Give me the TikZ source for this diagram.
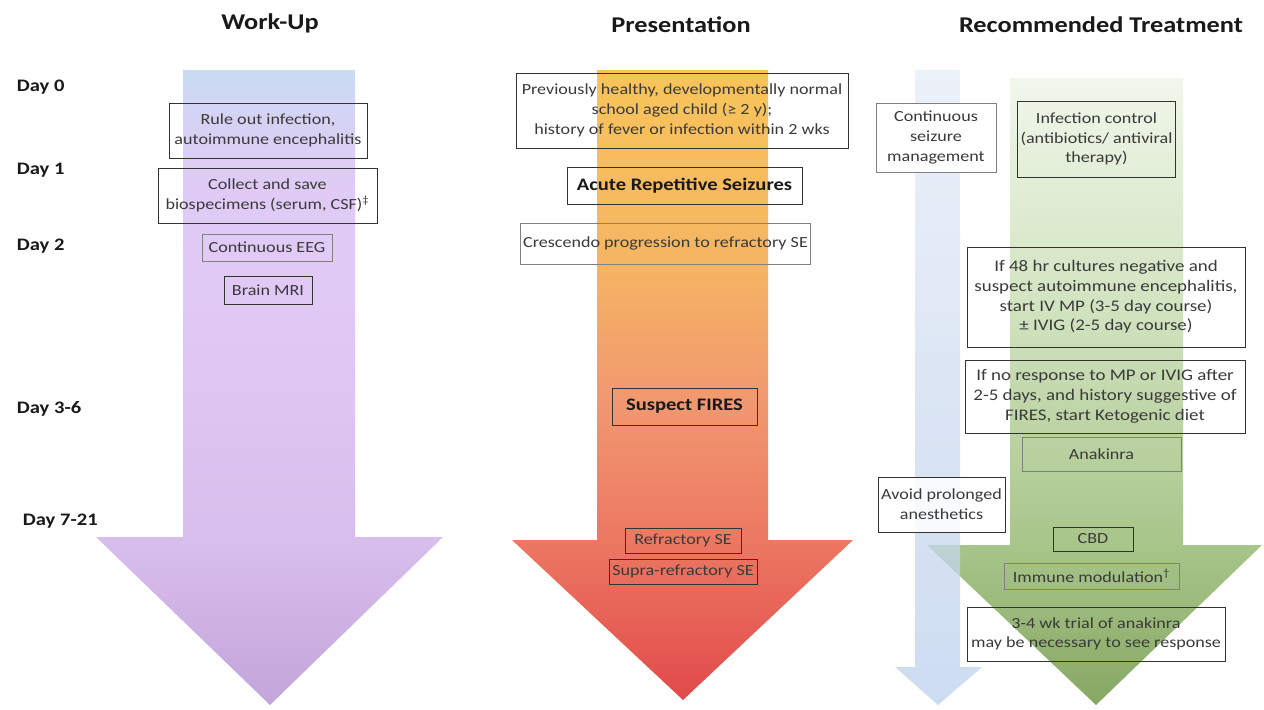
\documentclass[tikz,border=0pt]{standalone}
\usepackage{fontspec}
\setmainfont{Carlito}[FakeStretch=1.17]
\usepackage{tikz}

\definecolor{boxtext}{RGB}{58,58,58}
\definecolor{wuA}{HTML}{C8DCF2}
\definecolor{wuB}{HTML}{D6D2F4}
\definecolor{wuC}{HTML}{E0CBF6}
\definecolor{wuD}{HTML}{E1C9F5}
\definecolor{wuE}{HTML}{D8BEEC}
\definecolor{wuF}{HTML}{C3A5DA}
\definecolor{prA}{HTML}{F8C45A}
\definecolor{prB}{HTML}{F5B562}
\definecolor{prC}{HTML}{F19870}
\definecolor{prD}{HTML}{EC7862}
\definecolor{prE}{HTML}{E14A4B}
\definecolor{szA}{HTML}{E6EDF7}
\definecolor{szB}{HTML}{CFDCF0}
\definecolor{szC}{HTML}{BCD1EC}
\definecolor{trA}{HTML}{F2F7EC}
\definecolor{trB}{HTML}{E6F0DC}
\definecolor{trC}{HTML}{D3E4C2}
\definecolor{trD}{HTML}{A8C58A}
\definecolor{trE}{HTML}{86A864}

\pgfdeclareverticalshading{workupshade}{100bp}{color(0bp)=(wuF); color(25bp)=(wuF); color(38bp)=(wuE); color(57bp)=(wuD); color(65.6bp)=(wuC); color(71bp)=(wuB); color(75bp)=(wuA); color(100bp)=(wuA)}
\pgfdeclareverticalshading{presentshade}{100bp}{color(0bp)=(prE); color(25bp)=(prE); color(37.7bp)=(prD); color(48.8bp)=(prC); color(59.9bp)=(prB); color(75bp)=(prA); color(100bp)=(prA)}
\pgfdeclareverticalshading{seizshade}{100bp}{color(0bp)=(szC); color(25bp)=(szC); color(49bp)=(szB); color(75bp)=(szA); color(100bp)=(szA)}
\pgfdeclareverticalshading{treatshade}{100bp}{color(0bp)=(trE); color(25bp)=(trE); color(37.8bp)=(trD); color(57.3bp)=(trC); color(69.3bp)=(trB); color(75bp)=(trA); color(100bp)=(trA)}

\tikzstyle{heading} = [font=\fontsize{16}{19}\selectfont\bfseries, text=black!90]
\tikzstyle{daylabel} = [font=\fontsize{12.5}{15}\selectfont\bfseries, text=black!90, anchor=west]
\tikzstyle{box} = [draw=black!80, line width=0.6pt, text=boxtext, align=center, inner sep=2pt, font=\fontsize{11}{14}\selectfont]
\tikzstyle{lbox} = [box, draw=black!50]
\tikzstyle{bigbox} = [box, font=\fontsize{11.5}{14}\selectfont]
\tikzstyle{boldbox} = [box, text=black!90, font=\fontsize{12.5}{15}\selectfont\bfseries]

\begin{document}
\begin{tikzpicture}[x=0.025cm, y=-0.025cm]
\useasboundingbox (0,0) rectangle (1264,710);

%arrows
\shade[shading=workupshade] (183,70) -- (355,70) -- (355,537) -- (443,537) -- (270,705) -- (96,537) -- (183,537) -- cycle;
\shade[shading=presentshade] (597,70) -- (768,70) -- (768,540) -- (853,540) -- (683,700) -- (512,540) -- (597,540) -- cycle;
\shade[shading=treatshade] (1010,78) -- (1183,78) -- (1183,545) -- (1262,545) -- (1096,705) -- (927,545) -- (1010,545) -- cycle;
\shade[shading=seizshade, opacity=0.75] (915,70) -- (960,70) -- (960,667) -- (982,667) -- (938,705) -- (895,667) -- (915,667) -- cycle;

%headings
\node[heading] (workup) at (270,23) {Work-Up};
\node[heading] (present) at (681,25) {Presentation};
\node[heading] (treat) at (1101,25) {Recommended Treatment};

%days
\node[daylabel] (day0) at (12,87) {Day 0};
\node[daylabel] (day1) at (12,170) {Day 1};
\node[daylabel] (day2) at (12,246) {Day 2};
\node[daylabel] (day36) at (12,409) {Day 3-6};
\node[daylabel] (day721) at (18,521) {Day 7-21};

%Work-Up
\node[box, minimum width=4.95cm, minimum height=1.375cm] (ruleout) at (268,130.5) {Rule out infection,\\ autoimmune encephalitis};
\node[box, minimum width=5.475cm, minimum height=1.375cm] (collect) at (267.5,195.5) {Collect and save\\ biospecimens (serum, CSF)\textsuperscript{‡}};
\node[lbox, minimum width=3.25cm, minimum height=0.675cm] (eeg) at (267,247.5) {Continuous EEG};
\node[box, minimum width=2.2cm, minimum height=0.7cm] (mri) at (268,290) {Brain MRI};

%Presentation
\node[box, minimum width=8.3cm, minimum height=1.875cm] (healthy) at (682,110.5) {Previously healthy, developmentally normal\\ school aged child (≥ 2 y);\\ history of fever or infection within 2 wks};
\node[boldbox, minimum width=5.875cm, minimum height=0.925cm] (acute) at (684.5,185.5) {Acute Repetitive Seizures};
\node[lbox, minimum width=6.375cm, minimum height=1.025cm] (crescendo) at (665.5,243.5) {Crescendo progression to refractory SE};
\node[boldbox, minimum width=3.625cm, minimum height=0.925cm] (fires) at (684.5,406.5) {Suspect FIRES};
\node[box, minimum width=2.9cm, minimum height=0.625cm] (refractory) at (683,540.5) {Refractory SE};
\node[box, minimum width=3.7cm, minimum height=0.625cm] (supra) at (683,571.5) {Supra-refractory SE};

%Recommended Treatment
\node[lbox, fill=white, minimum width=3cm, minimum height=1.725cm] (seizmgmt) at (936,137.5) {Continuous\\ seizure\\ management};
\node[box, minimum width=3.925cm, minimum height=1.9cm] (infection) at (1096.5,139) {Infection control\\ (antibiotics/ antiviral\\ therapy)};
\node[bigbox, minimum width=6.95cm, minimum height=2.5cm] (cultures) at (1106,297) {If 48 hr cultures negative and\\ suspect autoimmune encephalitis,\\ start IV MP (3-5 day course)\\ ± IVIG (2-5 day course)};
\node[bigbox, minimum width=7cm, minimum height=1.825cm] (noresponse) at (1105,396.5) {If no response to MP or IVIG after\\ 2-5 days, and history suggestive of\\ FIRES, start Ketogenic diet};
\node[lbox, minimum width=3.975cm, minimum height=0.85cm] (anakinra) at (1101.5,454) {Anakinra};
\node[box, fill=white, fill opacity=0.85, text opacity=1, minimum width=3.175cm, minimum height=1.375cm] (avoid) at (941.5,504.5) {Avoid prolonged\\ anesthetics};
\node[box, minimum width=2cm, minimum height=0.6cm] (cbd) at (1093,539) {CBD};
\node[lbox, minimum width=4.375cm, minimum height=0.65cm] (immune) at (1091.5,576) {Immune modulation\textsuperscript{†}};
\node[box, minimum width=6.45cm, minimum height=1.35cm] (trial) at (1096,634) {3-4 wk trial of anakinra\\ may be necessary to see response};

\end{tikzpicture}
\end{document}
